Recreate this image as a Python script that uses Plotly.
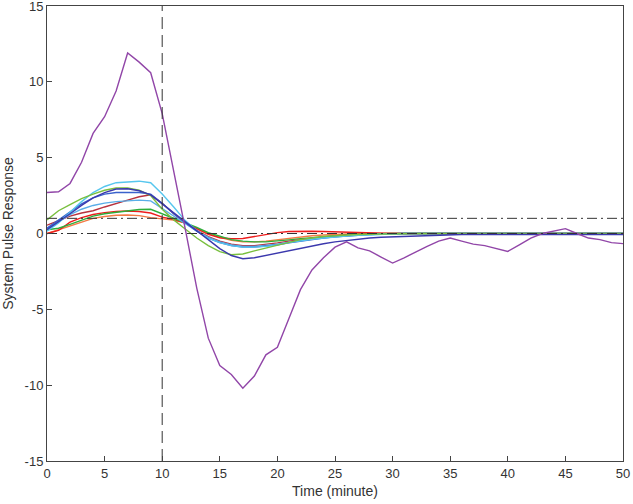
import plotly.graph_objects as go

time_min = list(range(0, 51))

purple = [2.7, 2.75, 3.3, 4.7, 6.6, 7.7, 9.4, 11.9, 11.3, 10.6, 7.9, 4.2, 0.3, -3.6, -6.9,
          -8.7, -9.3, -10.2, -9.4, -8.0, -7.5, -5.6, -3.7, -2.4, -1.6, -0.9, -0.55, -0.95,
          -1.15, -1.55, -1.95, -1.6, -1.2, -0.85, -0.5, -0.3, -0.5, -0.7, -0.8, -1.0, -1.18,
          -0.75, -0.3, 0.0, 0.15, 0.32, 0.0, -0.3, -0.4, -0.6, -0.67]
light_green = [0.9, 1.5, 1.9, 2.3, 2.6, 2.85, 3.0, 3.0, 2.85, 2.5, 1.6, 0.9, 0.3, -0.3, -0.8,
               -1.2, -1.4, -1.35, -1.15, -0.95, -0.75, -0.55, -0.4, -0.3, -0.2, -0.15, -0.1,
               -0.07, -0.05, -0.03] + [0.0] * 21
dark_blue = [0.25, 0.75, 1.3, 1.85, 2.35, 2.7, 2.93, 2.95, 2.82, 2.55, 1.95, 1.35, 0.75, 0.2,
             -0.45, -1.0, -1.45, -1.66, -1.6, -1.45, -1.3, -1.1, -0.95, -0.8, -0.68, -0.55,
             -0.45, -0.38, -0.3, -0.25, -0.22, -0.2, -0.17, -0.15, -0.12, -0.1] + [-0.07] * 15
royal_blue = [0.35, 0.9, 1.45, 1.95, 2.35, 2.6, 2.7, 2.72, 2.7, 2.6, 2.0, 1.3, 0.7, 0.15, -0.3,
              -0.6, -0.8, -0.9, -0.9, -0.85, -0.75, -0.62, -0.5, -0.4, -0.3, -0.22, -0.16,
              -0.11, -0.07, -0.04] + [0.0] * 21
cyan = [0.15, 0.7, 1.4, 2.1, 2.7, 3.1, 3.35, 3.42, 3.45, 3.35, 2.6, 1.75, 0.85, 0.2, -0.3,
        -0.6, -0.8, -0.9, -0.9, -0.85, -0.75, -0.6, -0.48, -0.38, -0.3, -0.22, -0.17, -0.12,
        -0.08, -0.05] + [0.0] * 21
light_blue = [0.3, 0.8, 1.25, 1.6, 1.85, 2.0, 2.1, 2.15, 2.2, 2.15, 1.65, 1.1, 0.6, 0.15, -0.25,
              -0.55, -0.75, -0.85, -0.85, -0.8, -0.7, -0.58, -0.46, -0.36, -0.28, -0.2, -0.15,
              -0.1, -0.07, -0.04] + [0.0] * 21
dark_red = [0.55, 0.85, 1.15, 1.35, 1.5, 1.75, 2.0, 2.2, 2.42, 2.55, 2.0, 1.3, 0.7, 0.2, -0.2,
            -0.5, -0.7, -0.8, -0.8, -0.72, -0.62, -0.5, -0.4, -0.3, -0.22, -0.16, -0.1, -0.06,
            -0.03] + [0.0] * 22
red = [0.0, 0.2, 0.75, 1.05, 1.25, 1.38, 1.45, 1.48, 1.45, 1.35, 1.08, 0.92, 0.7, 0.35, -0.05,
       -0.28, -0.35, -0.33, -0.2, -0.05, 0.06, 0.13, 0.15, 0.15, 0.13, 0.1, 0.07, 0.05, 0.03,
       0.02] + [0.0] * 21
green = [0.25, 0.35, 0.6, 0.9, 1.15, 1.3, 1.4, 1.5, 1.58, 1.6, 1.3, 1.05, 0.75, 0.4, 0.05,
         -0.2, -0.4, -0.5, -0.55, -0.55, -0.5, -0.42, -0.34, -0.27, -0.2, -0.15, -0.1, -0.06,
         -0.03, -0.01] + [0.0] * 21
orange = [0.0, 0.25, 0.55, 0.8, 1.0, 1.12, 1.2, 1.22, 1.18, 1.05, 0.95, 0.88, 0.68, 0.35, 0.0,
          -0.25, -0.45, -0.55, -0.55, -0.5, -0.4, -0.3, -0.22, -0.15, -0.1, -0.06, -0.03] + [0.0] * 24

series = [
    ("orange", orange, "#f47a45"),
    ("red", red, "#ee1d1d"),
    ("green", green, "#2eae3a"),
    ("dark_red", dark_red, "#b8323e"),
    ("light_blue", light_blue, "#5aaee8"),
    ("royal_blue", royal_blue, "#3a62cc"),
    ("cyan", cyan, "#56c6ee"),
    ("light_green", light_green, "#79bf3e"),
    ("dark_blue", dark_blue, "#3b38ad"),
    ("purple", purple, "#9146a8"),
]

x_ticks = [0, 5, 10, 15, 20, 25, 30, 35, 40, 45, 50]
x_tick_labels = ["0", "5", "10", "15", "20", "25", "30", "35", "40", "45", "50"]
y_ticks = [-15, -10, -5, 0, 5, 10, 15]
y_tick_labels = ["-15", "-10", "-5", "0", "5", "10", "15"]
ref_levels = [0, 1]
step_time = 10

FONT = "Liberation Sans, Arial"
fig = go.Figure()
for name, vals, col in series:
    fig.add_trace(go.Scatter(x=time_min, y=vals, mode="lines", name=name,
                             line=dict(color=col, width=1.4), showlegend=False))
for lvl in ref_levels:
    fig.add_trace(go.Scatter(x=[time_min[0], time_min[-1]], y=[lvl, lvl], mode="lines",
                             line=dict(color="#333333", width=1, dash="10px,4px,2px,4px"),
                             showlegend=False, hoverinfo="skip"))
fig.add_trace(go.Scatter(x=[step_time, step_time], y=[y_ticks[0], y_ticks[-1]], mode="lines",
                         line=dict(color="#333333", width=1, dash="12px,6px"),
                         showlegend=False, hoverinfo="skip"))

axis_common = dict(showline=True, linecolor="#444444", linewidth=1, mirror=True,
                   ticks="inside", ticklen=5, tickcolor="#444444", showgrid=False,
                   zeroline=False, automargin=False, ticklabeloverflow="allow",
                   tickfont=dict(family=FONT, size=13, color="#333333"))
fig.update_xaxes(range=[0, 50], tickvals=x_ticks, ticktext=x_tick_labels,
                 title=dict(text="Time (minute)", standoff=6,
                            font=dict(family=FONT, size=14, color="#333333")),
                 **axis_common)
fig.update_yaxes(range=[-15, 15], tickvals=y_ticks, ticktext=y_tick_labels,
                 title=dict(text="System Pulse Response",
                            font=dict(family=FONT, size=14, color="#333333")),
                 **axis_common)
fig.update_layout(width=633, height=504, margin=dict(l=47, r=10, t=6, b=43),
                  plot_bgcolor="white", paper_bgcolor="white")
fig.write_html("out.html", config={"displayModeBar": False},
               post_script="document.body.style.margin='0';document.body.style.padding='0';")
